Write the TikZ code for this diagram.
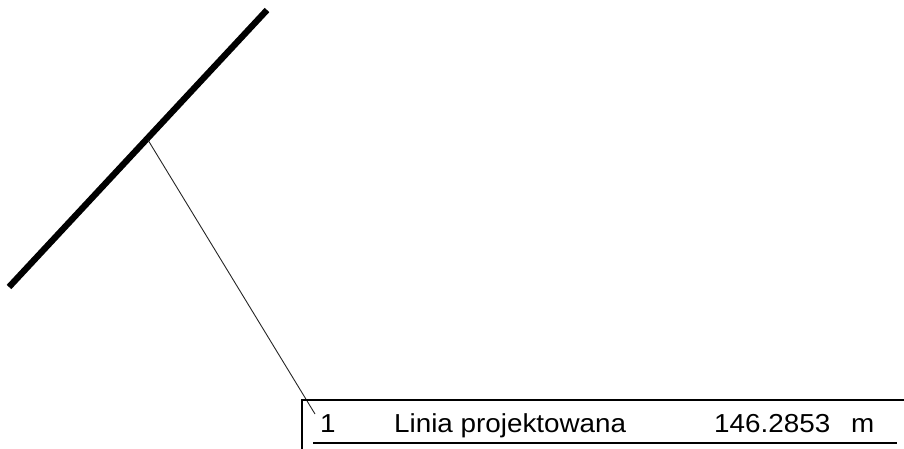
\documentclass[tikz,border=0pt]{standalone}
\usepackage{graphicx}
\usepackage{fontspec}
\setmainfont{Liberation Sans}
\newcommand{\stretchtxt}[1]{\scalebox{1.07}[1]{#1}}
\begin{document}
\begin{tikzpicture}[x=1pt,y=-1pt,
  thickline/.style={line width=6.3pt,line cap=butt,black},
  leader/.style={line width=0.9pt,black!85},
  frame/.style={line width=1.1pt,black},
  txt/.style={anchor=base west,inner sep=0pt,font=\fontsize{26}{29}\selectfont}]
\useasboundingbox (0,0) rectangle (904,448);
\coordinate (la) at (267,10);
\coordinate (lb) at (9,287);
\draw[thickline] (la) -- (lb);
\coordinate (anchorpt) at (148,140);
\coordinate (tip) at (315,414);
\draw[leader] (anchorpt) -- (tip);
\coordinate (boxtl) at (302,400);
\coordinate (boxtr) at (904,400);
\coordinate (boxbl) at (302,449);
\draw[frame] (boxbl) -- (boxtl) -- (boxtr);
\coordinate (ula) at (313,443);
\coordinate (ulb) at (897,443);
\draw[frame] (ula) -- (ulb);
\node[txt] (num) at (320,432) {\stretchtxt{1}};
\node[txt] (name) at (394,432) {\stretchtxt{Linia projektowana}};
\node[txt] (val) at (714,432) {\stretchtxt{146.2853}};
\node[txt] (unit) at (851,432) {\stretchtxt{m}};
\end{tikzpicture}
\end{document}
